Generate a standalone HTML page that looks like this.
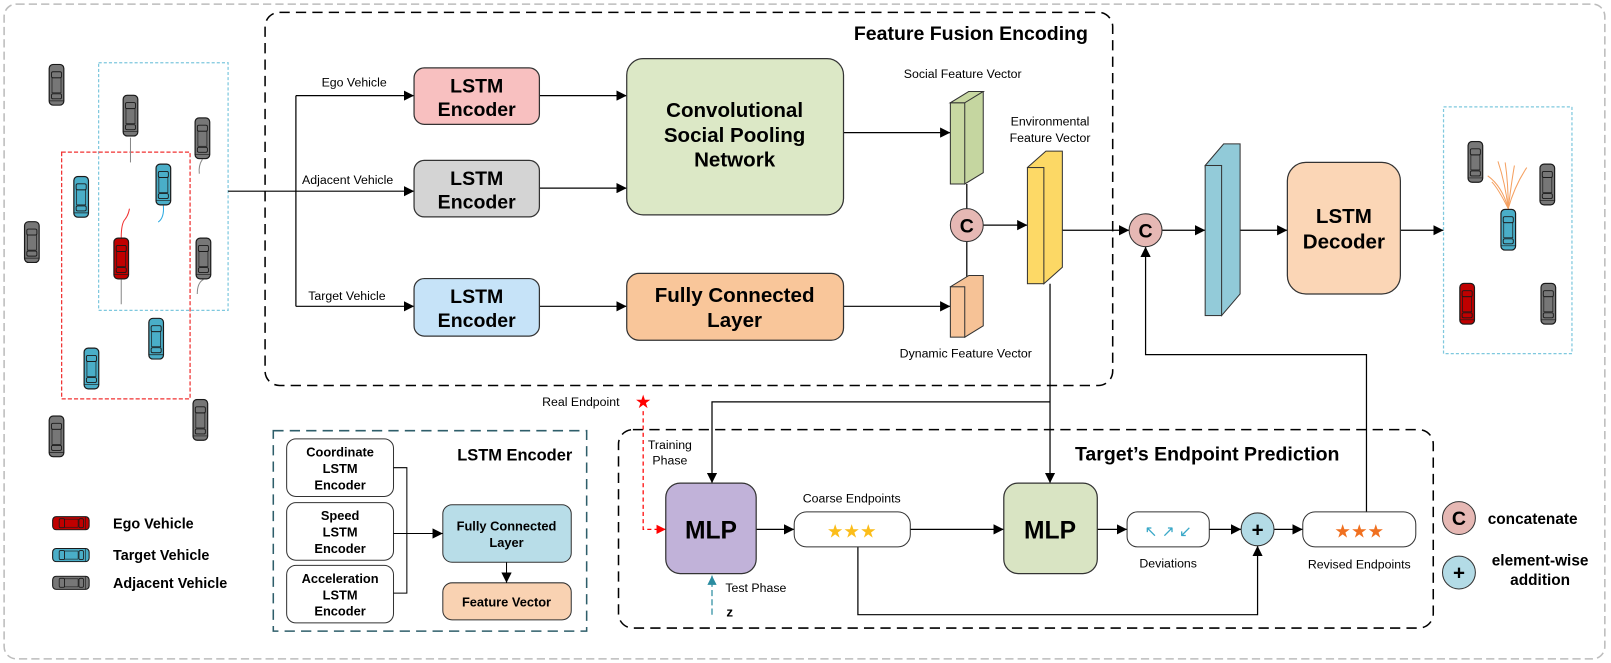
<!DOCTYPE html>
<html><head><meta charset="utf-8"><style>
html,body{margin:0;padding:0;background:#fff;}
svg{display:block;font-family:"Liberation Sans",sans-serif;}
.b{font-weight:bold;}
</style></head><body>
<svg width="1611" height="663" viewBox="0 0 1568 645" preserveAspectRatio="none" xmlns="http://www.w3.org/2000/svg">
<defs>
<marker id="ar" viewBox="0 0 10 10" refX="10" refY="5" markerWidth="10" markerHeight="10" markerUnits="userSpaceOnUse" orient="auto"><path d="M0,0L10,5L0,10z" fill="#000"/></marker>
<marker id="arr" viewBox="0 0 10 10" refX="10" refY="5" markerWidth="9" markerHeight="9" markerUnits="userSpaceOnUse" orient="auto"><path d="M0,0L10,5L0,10z" fill="#f00"/></marker>
<marker id="art" viewBox="0 0 10 10" refX="10" refY="5" markerWidth="9" markerHeight="9" markerUnits="userSpaceOnUse" orient="auto"><path d="M0,0L10,5L0,10z" fill="#2a8ca0"/></marker>
<symbol id="car" viewBox="0 0 16 42">
<rect x="0.7" y="0.7" width="14.6" height="40.6" rx="4" fill="currentColor" stroke="#1a1a1a" stroke-width="1.2"/>
<rect x="3" y="8" width="10" height="6" rx="1.5" fill="none" stroke="#1a1a1a" stroke-width="0.9"/>
<rect x="3.5" y="14" width="9" height="15" fill="none" stroke="#1a1a1a" stroke-width="0.7"/>
<rect x="3" y="30" width="10" height="5" rx="1.5" fill="none" stroke="#1a1a1a" stroke-width="0.9"/>
<line x1="1" y1="37" x2="15" y2="37" stroke="#1a1a1a" stroke-width="0.7"/>
</symbol>
</defs>

<!-- outer border -->
<rect x="4" y="4" width="1558" height="637" rx="12" fill="none" stroke="#bcbcbc" stroke-width="1.5" stroke-dasharray="8,4"/>

<!-- left scene -->
<rect x="96" y="61" width="126" height="241" fill="none" stroke="#7ec8de" stroke-width="1.2" stroke-dasharray="3,2"/>
<rect x="60" y="148" width="125" height="240" fill="none" stroke="#f03030" stroke-width="1.2" stroke-dasharray="4,2"/>
<path d="M127,134 L127,158" stroke="#888" fill="none"/>
<path d="M197,155 q-4,6 -3,14" stroke="#888" fill="none"/>
<path d="M198,272 q-6,3 -6,14" stroke="#888" fill="none"/>
<path d="M118,231 q0,-14 4,-18 q3,-4 4,-10" stroke="#f03030" fill="none"/>
<path d="M159,200 q1,12 -5,16" stroke="#2aa8e0" fill="none"/>
<path d="M118,272 L118,296" stroke="#888" fill="none"/>
<use href="#car" x="47" y="62" width="16" height="41" color="#777"/>
<use href="#car" x="119" y="92" width="16" height="41" color="#777"/>
<use href="#car" x="189" y="114" width="16" height="41" color="#777"/>
<use href="#car" x="23" y="215" width="16" height="41" color="#777"/>
<use href="#car" x="190" y="231" width="16" height="41" color="#777"/>
<use href="#car" x="47" y="404" width="16" height="41" color="#777"/>
<use href="#car" x="187" y="388" width="16" height="41" color="#777"/>
<use href="#car" x="151" y="159" width="16" height="41" color="#4aaec8"/>
<use href="#car" x="71" y="171" width="16" height="41" color="#4aaec8"/>
<use href="#car" x="144" y="309" width="16" height="41" color="#4aaec8"/>
<use href="#car" x="81" y="338" width="16" height="41" color="#4aaec8"/>
<use href="#car" x="110" y="231" width="16" height="41" color="#c00000"/>

<!-- legend cars -->
<g transform="translate(49,516) rotate(-90)"><use href="#car" x="0" y="0" width="14" height="40" color="#c00000"/></g>
<g transform="translate(49,547) rotate(-90)"><use href="#car" x="0" y="0" width="14" height="40" color="#4aaec8"/></g>
<g transform="translate(49,574) rotate(-90)"><use href="#car" x="0" y="0" width="14" height="40" color="#777"/></g>
<text x="110" y="514" class="b" font-size="14">Ego Vehicle</text>
<text x="110" y="545" class="b" font-size="14">Target Vehicle</text>
<text x="110" y="572" class="b" font-size="14">Adjacent Vehicle</text>

<!-- Feature Fusion -->
<rect x="258" y="12" width="825" height="363" rx="14" fill="none" stroke="#000" stroke-width="1.5" stroke-dasharray="10,6"/>
<text x="945" y="39" class="b" font-size="19" text-anchor="middle">Feature Fusion Encoding</text>

<g stroke="#000" stroke-width="1.2" fill="none">
<path d="M222,186 H288 M288,93 V298"/>
<path d="M288,93 H403" marker-end="url(#ar)"/>
<path d="M288,186 H403" marker-end="url(#ar)"/>
<path d="M288,298 H403" marker-end="url(#ar)"/>
<path d="M525,93 H610" marker-end="url(#ar)"/>
<path d="M525,183 H610" marker-end="url(#ar)"/>
<path d="M525,298 H610" marker-end="url(#ar)"/>
<path d="M821,129 H925" marker-end="url(#ar)"/>
<path d="M821,298 H925" marker-end="url(#ar)"/>
<path d="M941,179 V279"/>
<path d="M957,219 H1000" marker-end="url(#ar)"/>
<path d="M1034,224 H1099" marker-end="url(#ar)"/>
<path d="M1131,224 H1173" marker-end="url(#ar)"/>
<path d="M1207,224 H1253" marker-end="url(#ar)"/>
<path d="M1363,224 H1405" marker-end="url(#ar)"/>
<path d="M1330,498 V345 H1115 V240" marker-end="url(#ar)"/>
<path d="M1022,276 V470" marker-end="url(#ar)"/>
<path d="M1022,391 H693 V470" marker-end="url(#ar)"/>
<path d="M736,515 H773" marker-end="url(#ar)"/>
<path d="M886,515 H977" marker-end="url(#ar)"/>
<path d="M1068,515 H1097" marker-end="url(#ar)"/>
<path d="M1177,515 H1208" marker-end="url(#ar)"/>
<path d="M1240,515 H1268" marker-end="url(#ar)"/>
<path d="M835,532 V598 H1224 V531" marker-end="url(#ar)"/>
</g>

<text x="313" y="84" font-size="12">Ego Vehicle</text>
<text x="294" y="179" font-size="12">Adjacent Vehicle</text>
<text x="300" y="292" font-size="12">Target Vehicle</text>

<g stroke="#333" stroke-width="1.2">
<rect x="403" y="66" width="122" height="55" rx="10" fill="#f8c0c0"/>
<rect x="403" y="156" width="122" height="55" rx="10" fill="#d4d4d4"/>
<rect x="403" y="271" width="122" height="56" rx="10" fill="#c6e3f8"/>
<rect x="610" y="57" width="211" height="152" rx="16" fill="#dce8c6"/>
<rect x="610" y="266" width="211" height="65" rx="12" fill="#f9c69a"/>
</g>
<g class="b" font-size="19" text-anchor="middle">
<text x="464" y="90">LSTM</text><text x="464" y="113">Encoder</text>
<text x="464" y="180">LSTM</text><text x="464" y="203">Encoder</text>
<text x="464" y="295">LSTM</text><text x="464" y="318">Encoder</text>
<text x="715" y="114" font-size="20">Convolutional</text>
<text x="715" y="138" font-size="20">Social Pooling</text>
<text x="715" y="162" font-size="20">Network</text>
<text x="715" y="294" font-size="20">Fully Connected</text>
<text x="715" y="318" font-size="20">Layer</text>
</g>

<!-- vectors -->
<g stroke="#333" stroke-width="1">
<path d="M925,100 L943,89 L957,89 L957,168 L939,179 Z" fill="#c5d6a0"/>
<rect x="925" y="100" width="14" height="79" fill="#c8d8a2"/>
<path d="M925,100 L943,89 L957,89 L939,100Z" fill="#c8d8a2"/>
<path d="M925,279 L943,268 L957,268 L957,317 L939,328 Z" fill="#f6c296"/>
<rect x="925" y="279" width="14" height="49" fill="#f8c59a"/>
<path d="M1000,163 L1018,147 L1034,147 L1034,260 L1016,276 Z" fill="#fcd865"/>
<rect x="1000" y="163" width="16" height="113" fill="#fdd966"/>
<path d="M1173,161 L1191,140 L1207,140 L1207,286 L1189,307 Z" fill="#91cad8"/>
<rect x="1173" y="161" width="16" height="146" fill="#93cbd9"/>
<circle cx="941" cy="219" r="16" fill="#e6b8b4"/>
<circle cx="1115" cy="224" r="16" fill="#e6b8b4"/>
</g>
<text x="941" y="226" class="b" font-size="19" text-anchor="middle">C</text>
<text x="1115" y="231" class="b" font-size="19" text-anchor="middle">C</text>
<text x="937" y="76" font-size="12" text-anchor="middle">Social Feature Vector</text>
<text x="1022" y="122" font-size="12" text-anchor="middle">Environmental</text>
<text x="1022" y="138" font-size="12" text-anchor="middle">Feature Vector</text>
<text x="940" y="348" font-size="12" text-anchor="middle">Dynamic Feature Vector</text>

<!-- decoder -->
<rect x="1253" y="158" width="110" height="128" rx="18" fill="#fbd6b6" stroke="#333" stroke-width="1.2"/>
<text x="1308" y="217" class="b" font-size="20" text-anchor="middle">LSTM</text>
<text x="1308" y="242" class="b" font-size="20" text-anchor="middle">Decoder</text>

<!-- output scene -->
<rect x="1405" y="104" width="125" height="240" fill="none" stroke="#7ec8de" stroke-width="1.2" stroke-dasharray="3,2"/>
<g stroke="#f5a060" stroke-width="1" fill="none">
<path d="M1468,203 q-6,-22 -20,-32"/><path d="M1468,203 q-3,-25 -10,-46"/><path d="M1468,203 q0,-25 -3,-45"/>
<path d="M1468,203 q3,-25 6,-42"/><path d="M1468,203 q6,-22 18,-40"/><path d="M1468,203 q-10,-20 -16,-26"/>
</g>
<use href="#car" x="1428" y="137" width="16" height="41" color="#777"/>
<use href="#car" x="1498" y="159" width="16" height="41" color="#777"/>
<use href="#car" x="1460" y="203" width="16" height="41" color="#4aaec8"/>
<use href="#car" x="1420" y="275" width="16" height="41" color="#c00000"/>
<use href="#car" x="1499" y="275" width="16" height="41" color="#777"/>

<!-- legend ops -->
<circle cx="1420" cy="504" r="16" fill="#e6b8b4" stroke="#333"/>
<text x="1420" y="511" class="b" font-size="19" text-anchor="middle">C</text>
<text x="1448" y="510" class="b" font-size="15">concatenate</text>
<circle cx="1420" cy="557" r="16" fill="#b3dbe6" stroke="#333"/>
<text x="1420" y="564" class="b" font-size="20" text-anchor="middle">+</text>
<text x="1499" y="550" class="b" font-size="15" text-anchor="middle">element-wise</text>
<text x="1499" y="569" class="b" font-size="15" text-anchor="middle">addition</text>

<!-- endpoint prediction -->
<rect x="602" y="418" width="793" height="193" rx="14" fill="none" stroke="#000" stroke-width="1.5" stroke-dasharray="10,6"/>
<text x="1175" y="448" class="b" font-size="19" text-anchor="middle">Target’s Endpoint Prediction</text>
<text x="603" y="395" font-size="12" text-anchor="end">Real Endpoint</text>
<text x="626" y="397" font-size="18" fill="#f00" text-anchor="middle">★</text>
<path d="M626,400 V515 H648" stroke="#f00" stroke-width="1.2" fill="none" stroke-dasharray="4,3" marker-end="url(#arr)"/>
<text x="652" y="437" font-size="12" text-anchor="middle">Training</text>
<text x="652" y="452" font-size="12" text-anchor="middle">Phase</text>
<path d="M693,598 V560" stroke="#2a8ca0" stroke-width="1.2" fill="none" stroke-dasharray="6,3" marker-end="url(#art)"/>
<text x="706" y="576" font-size="12">Test Phase</text>
<text x="707" y="600" class="b" font-size="13">z</text>

<rect x="648" y="470" width="88" height="88" rx="14" fill="#c1b2d9" stroke="#333" stroke-width="1.2"/>
<text x="692" y="524" class="b" font-size="24" text-anchor="middle">MLP</text>
<rect x="977" y="470" width="91" height="88" rx="14" fill="#d9e4c3" stroke="#333" stroke-width="1.2"/>
<text x="1022" y="524" class="b" font-size="24" text-anchor="middle">MLP</text>

<rect x="773" y="498" width="113" height="34" rx="12" fill="#fff" stroke="#333"/>
<text x="829" y="523" font-size="18" fill="#fbbd1a" text-anchor="middle">★★★</text>
<text x="829" y="489" font-size="12" text-anchor="middle">Coarse Endpoints</text>
<rect x="1097" y="498" width="80" height="34" rx="10" fill="#fff" stroke="#333"/>
<text x="1137" y="522" font-size="15" fill="#3aa8c8" text-anchor="middle">↖ ↗ ↙</text>
<text x="1137" y="552" font-size="12" text-anchor="middle">Deviations</text>
<circle cx="1224" cy="515" r="16" fill="#b3dbe6" stroke="#333"/>
<text x="1224" y="522" class="b" font-size="20" text-anchor="middle">+</text>
<rect x="1268" y="498" width="110" height="34" rx="12" fill="#fff" stroke="#333"/>
<text x="1323" y="523" font-size="18" fill="#f07020" text-anchor="middle">★★★</text>
<text x="1323" y="553" font-size="12" text-anchor="middle">Revised Endpoints</text>

<!-- LSTM encoder detail -->
<rect x="266" y="419" width="305" height="195" fill="none" stroke="#2e5e6a" stroke-width="1.5" stroke-dasharray="10,6"/>
<text x="501" y="448" class="b" font-size="16" text-anchor="middle">LSTM Encoder</text>
<g stroke="#333" stroke-width="1" fill="#fff">
<rect x="279" y="427" width="104" height="56" rx="9"/>
<rect x="279" y="489" width="104" height="56" rx="9"/>
<rect x="279" y="550" width="104" height="56" rx="9"/>
<rect x="431" y="491" width="125" height="56" rx="9" fill="#b8dde8"/>
<rect x="431" y="567" width="125" height="36" rx="9" fill="#f9d2b2"/>
</g>
<g stroke="#000" stroke-width="1" fill="none">
<path d="M383,455 H396 V577 H383"/>
<path d="M383,519 H431" marker-end="url(#ar)"/>
<path d="M493,547 V567" marker-end="url(#ar)"/>
</g>
<g class="b" font-size="12.5" text-anchor="middle">
<text x="331" y="444">Coordinate</text><text x="331" y="460">LSTM</text><text x="331" y="476">Encoder</text>
<text x="331" y="506">Speed</text><text x="331" y="522">LSTM</text><text x="331" y="538">Encoder</text>
<text x="331" y="567">Acceleration</text><text x="331" y="583">LSTM</text><text x="331" y="599">Encoder</text>
<text x="493" y="516">Fully Connected</text><text x="493" y="532">Layer</text>
<text x="493" y="590">Feature Vector</text>
</g>
</svg>
</body></html>
